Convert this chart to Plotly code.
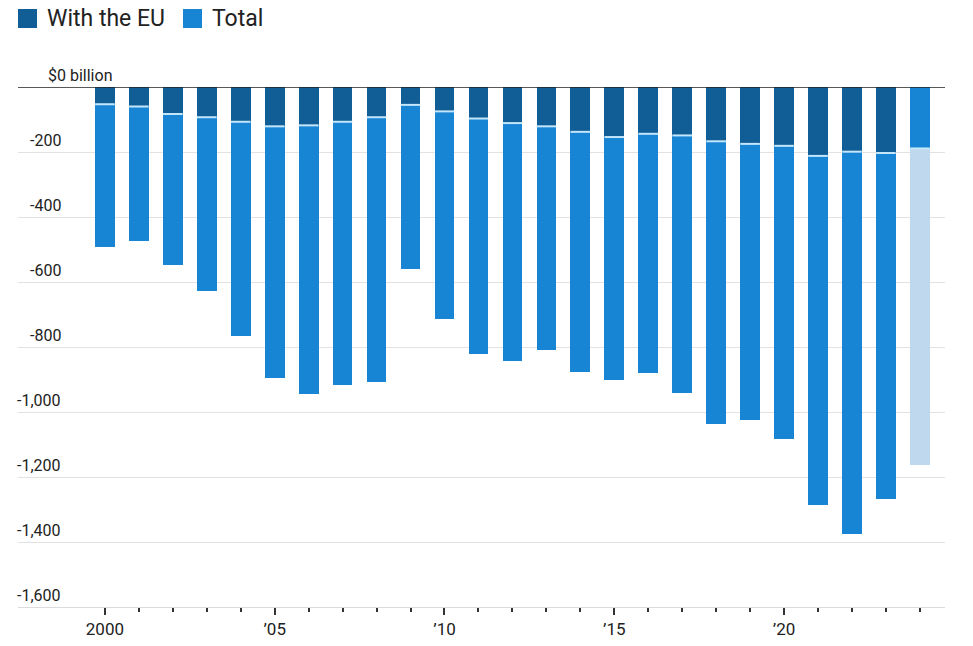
import plotly.graph_objects as go

years = list(range(2000, 2025))
total = [-491, -474, -547, -627, -765, -894, -946, -918, -909, -561,
         -714, -821, -843, -810, -876, -900, -881, -941, -1038, -1025,
         -1084, -1287, -1375, -1269, -1162]
with_eu = [-53, -60, -83, -93, -107, -121, -118, -107, -93, -55,
           -75, -97, -111, -121, -138, -154, -144, -149, -167, -175,
           -181, -212, -199, -203, -189]
y_ticks = [0, -200, -400, -600, -800, -1000, -1200, -1400, -1600]
y_labels = ["$0 billion", "-200", "-400", "-600", "-800", "-1,000", "-1,200", "-1,400", "-1,600"]
x_ticks = [2000, 2005, 2010, 2015, 2020]
x_labels = ["2000", "\u201905", "\u201910", "\u201915", "\u201920"]

DARK = "#115e97"
MED = "#1784d4"
LIGHT = "#bfd8ee"
SEP = "#c4e6fb"
FONT = "Roboto, sans-serif"

total_colors = [MED] * (len(years) - 1) + [LIGHT]
eu_colors = [DARK] * (len(years) - 1) + [MED]

fig = go.Figure()
fig.add_trace(go.Bar(x=years, y=total, marker=dict(color=total_colors, line=dict(width=0)),
                     width=0.58, showlegend=False, hoverinfo="skip"))
fig.add_trace(go.Bar(x=years, y=with_eu, marker=dict(color=eu_colors, line=dict(width=0)),
                     width=0.58, showlegend=False, hoverinfo="skip"))
fig.add_trace(go.Scatter(x=years, y=with_eu, mode="markers",
                         marker=dict(symbol="line-ew", size=14, line=dict(color=SEP, width=2)),
                         showlegend=False, hoverinfo="skip"))

W, H = 973, 646
L, R, T, B = 18, 28, 87, 39
pw, ph = W - L - R, H - T - B

def px_x(p):
    return (p - L) / pw

def px_y(p):
    return (H - B - p) / ph

annotations = []
for v, lab in zip(y_ticks, y_labels):
    if v == 0:
        annotations.append(dict(x=px_x(46), y=v, xref="paper", yref="y", text=lab,
                                showarrow=False, xanchor="left", yanchor="bottom",
                                font=dict(family=FONT, size=16, color="#222")))
    else:
        annotations.append(dict(x=px_x(63), y=v, xref="paper", yref="y", text=lab,
                                showarrow=False, xanchor="right", yanchor="bottom",
                                font=dict(family=FONT, size=16, color="#222")))

# legend
shapes = []
legend_items = [("With the EU", DARK, 18), ("Total", MED, 183)]
for name, col, x0 in legend_items:
    shapes.append(dict(type="rect", xref="paper", yref="paper",
                       x0=px_x(x0), x1=px_x(x0 + 19), y0=px_y(28), y1=px_y(9),
                       fillcolor=col, line=dict(width=0)))
    annotations.append(dict(x=px_x(x0 + 27), y=px_y(18.5), xref="paper", yref="paper",
                            text=name, showarrow=False, xanchor="left", yanchor="middle",
                            font=dict(family=FONT, size=23, color="#222")))

shapes.append(dict(type="line", xref="paper", yref="y", x0=0, x1=1, y0=0, y1=0,
                   line=dict(color="#222", width=1.5), layer="above"))

fig.update_layout(
    width=W, height=H,
    margin=dict(l=L, r=R, t=T, b=B, autoexpand=False),
    paper_bgcolor="white", plot_bgcolor="white",
    barmode="overlay",
    bargap=0,
    showlegend=False,
    annotations=annotations,
    shapes=shapes,
    xaxis=dict(range=[1997.44, 2024.74], tickvals=x_ticks, ticktext=x_labels,
               ticks="outside", ticklen=7, tickwidth=1.5, tickcolor="#333",
               minor=dict(tickmode="array", tickvals=years, ticks="outside", ticklen=4,
                          tickwidth=1.5, tickcolor="#333", showgrid=False),
               showline=True, linecolor="#dcdcdc", linewidth=1,
               showgrid=False, zeroline=False,
               tickfont=dict(family=FONT, size=17, color="#222")),
    yaxis=dict(range=[-1600, 0], tickvals=y_ticks, showticklabels=False,
               showgrid=True, gridcolor="#e2e2e2", gridwidth=1, zeroline=False),
)

fig.write_html("out.html", config={"displayModeBar": False},
               post_script="document.body.style.margin='0';")
